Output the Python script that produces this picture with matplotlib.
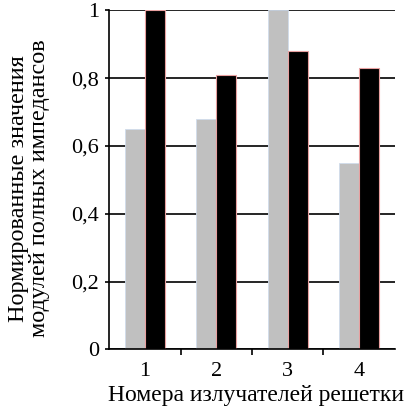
import matplotlib.pyplot as plt
import numpy as np

plt.rcParams['font.family'] = 'serif'
plt.rcParams['font.serif'] = ['Liberation Serif', 'DejaVu Serif']

emitters = ['1', '2', '3', '4']
gray_vals = [0.65, 0.68, 1.0, 0.55]
black_vals = [1.0, 0.81, 0.88, 0.83]
yticks = [0, 0.2, 0.4, 0.6, 0.8, 1.0]
ytick_labels = ['0', '0,2', '0,4', '0,6', '0,8', '1']
fnt = 'Liberation Serif'

fig = plt.figure(figsize=(4.1, 4.16), dpi=100)
ax = fig.add_axes([0.266, 0.16, 0.697, 0.815])

x = np.arange(len(emitters))
w = 0.28
ax.bar(x - 0.14, gray_vals, w, color='#c0c0c0', edgecolor='#d0dcec', linewidth=0.6, zorder=2)
ax.bar(x + 0.14, black_vals, w, color='black', edgecolor='#e8a0a0', linewidth=0.8, zorder=2)

ax.set_xlim(-0.5, 3.5)
ax.set_ylim(0, 1.0)
ax.set_yticks(yticks)
ax.set_yticklabels(ytick_labels, fontsize=16, family=fnt)
ax.yaxis.grid(True, color='black', linewidth=1.2, zorder=0)
ax.set_axisbelow(True)

# подписи категорий по центру, риски на границах
ax.set_xticks(x)
ax.set_xticklabels(emitters, fontsize=16, family=fnt)
ax.tick_params(axis='x', length=0, pad=9)
ax.set_xticks(np.arange(0.5, 3.5, 1), minor=True)
ax.tick_params(axis='x', which='minor', length=4, width=1.2, direction='out')
ax.tick_params(axis='y', length=3, width=1.2, pad=4)

for s in ['top', 'right']:
    ax.spines[s].set_visible(False)
ax.spines['left'].set_linewidth(1.2)
ax.spines['bottom'].set_linewidth(1.2)
ax.spines['left'].set_zorder(3)

ax.set_xlabel('Номера излучателей решетки', fontsize=17, family=fnt)
ax.xaxis.set_label_coords(0.513, -0.105)
ax.set_ylabel('Нормированные значения\nмодулей полных импедансов', fontsize=17.5,
              linespacing=1.0, family=fnt)
ax.yaxis.set_label_coords(-0.205, 0.475)

fig.savefig('out.png', dpi=100)
